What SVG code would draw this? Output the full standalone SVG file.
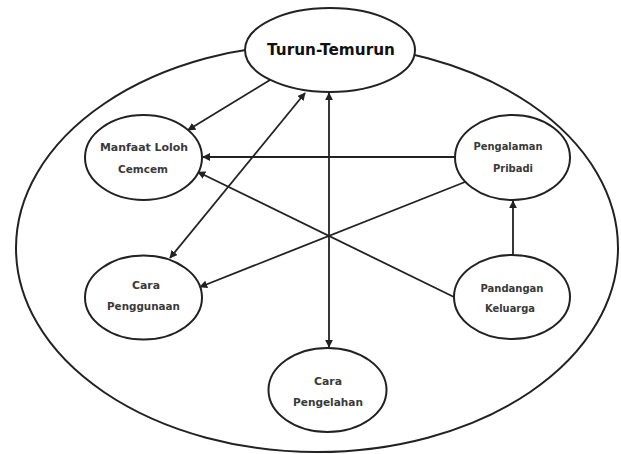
<svg xmlns="http://www.w3.org/2000/svg" width="621" height="454" viewBox="0 0 621 454">
<style>
.node{fill:#fff;stroke:#222;stroke-width:2}
.outer{fill:#fff;stroke:#222;stroke-width:2}
.lbl{font-family:"DejaVu Sans",sans-serif;font-size:10.5px;font-weight:bold;fill:#3a3a3a;text-anchor:middle;dominant-baseline:central}
.title{font-family:"DejaVu Sans",sans-serif;font-size:15px;font-weight:bold;fill:#111;text-anchor:middle;dominant-baseline:central}
.conn line{stroke:#222;stroke-width:1.8;fill:none}
</style>
<defs>
<marker id="ah" viewBox="0 0 10 10" refX="9" refY="5" markerWidth="8" markerHeight="8" markerUnits="userSpaceOnUse" orient="auto-start-reverse">
<path d="M0,0 L10,5 L0,10 z" fill="#222"/>
</marker>
</defs>
<rect width="621" height="454" fill="#fff"/>
<ellipse class="outer" cx="317" cy="248" rx="301" ry="204"/>
<g class="conn" id="connectors">
<line x1="270" y1="80" x2="188" y2="130" marker-end="url(#ah)"/>
<line x1="305" y1="93" x2="170" y2="258" marker-start="url(#ah)" marker-end="url(#ah)"/>
<line x1="329" y1="93" x2="329" y2="347" marker-start="url(#ah)" marker-end="url(#ah)"/>
<line x1="455" y1="157" x2="203" y2="157" marker-end="url(#ah)"/>
<line x1="465" y1="182" x2="200" y2="287" marker-end="url(#ah)"/>
<line x1="454" y1="297" x2="198" y2="172" marker-end="url(#ah)"/>
<line x1="513" y1="255" x2="513" y2="201" marker-end="url(#ah)"/>
</g>
<g id="turun">
<ellipse class="node" cx="330" cy="50" rx="85" ry="42"/>
<text class="title" x="331" y="50" textLength="128" lengthAdjust="spacingAndGlyphs">Turun-Temurun</text>
</g>
<g id="manfaat">
<ellipse class="node" cx="143.5" cy="157.5" rx="58.5" ry="42.5"/>
<text class="lbl" x="144" y="147" textLength="88" lengthAdjust="spacingAndGlyphs">Manfaat Loloh</text>
<text class="lbl" x="143" y="169" textLength="50" lengthAdjust="spacingAndGlyphs">Cemcem</text>
</g>
<g id="pengalaman">
<ellipse class="node" cx="512.5" cy="157.5" rx="57.5" ry="42.5"/>
<text class="lbl" x="508" y="146" textLength="69" lengthAdjust="spacingAndGlyphs">Pengalaman</text>
<text class="lbl" x="513" y="168" textLength="40" lengthAdjust="spacingAndGlyphs">Pribadi</text>
</g>
<g id="penggunaan">
<ellipse class="node" cx="143.5" cy="297.5" rx="58.5" ry="42"/>
<text class="lbl" x="146" y="285" textLength="28" lengthAdjust="spacingAndGlyphs">Cara</text>
<text class="lbl" x="143.5" y="306" textLength="73" lengthAdjust="spacingAndGlyphs">Penggunaan</text>
</g>
<g id="pandangan">
<ellipse class="node" cx="512" cy="297" rx="58" ry="42"/>
<text class="lbl" x="512" y="288" textLength="63" lengthAdjust="spacingAndGlyphs">Pandangan</text>
<text class="lbl" x="510" y="308" textLength="50" lengthAdjust="spacingAndGlyphs">Keluarga</text>
</g>
<g id="pengelahan">
<ellipse class="node" cx="327.5" cy="390" rx="59" ry="42"/>
<text class="lbl" x="328" y="381" textLength="28" lengthAdjust="spacingAndGlyphs">Cara</text>
<text class="lbl" x="328" y="402" textLength="70" lengthAdjust="spacingAndGlyphs">Pengelahan</text>
</g>
</svg>
